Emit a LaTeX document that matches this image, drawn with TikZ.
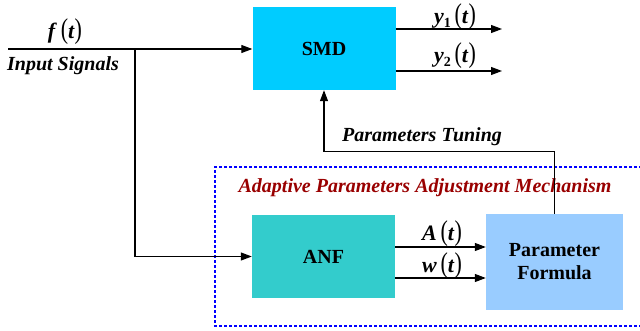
\documentclass[tikz,border=0pt]{standalone}
\usepackage{fontspec}
\setmainfont{Liberation Serif}
\usetikzlibrary{arrows.meta,positioning}
\definecolor{smdcyan}{HTML}{00CCFF}
\definecolor{anfteal}{HTML}{33CCCC}
\definecolor{pfblue}{HTML}{99CCFF}
\definecolor{mechred}{HTML}{990000}
\newcommand{\tpar}[1]{\scalebox{1}[1.3]{#1}}
\newcommand{\sig}[2][]{\textbf{\textit{#2}}\ifx&#1&\else\raisebox{-3.5pt}{\fontsize{14}{14}\selectfont\bfseries #1}\fi\,\tpar{(}\textbf{\textit{t}}\tpar{)}}

\begin{document}
\begin{tikzpicture}[x=1pt, y=-1pt,
  block/.style={minimum width=143pt, minimum height=83pt, inner sep=0pt,
                font=\fontsize{20}{23}\selectfont\bfseries, align=center},
  arr/.style={-{Triangle[length=11pt, width=8pt]}, line width=1.1pt},
  lbl/.style={font=\fontsize{20}{23}\selectfont\bfseries\itshape},
  sgl/.style={font=\fontsize{22}{24}\selectfont, inner sep=0pt}
]
\useasboundingbox (0,0) rectangle (640,331);
% blocks
\node[block, fill=smdcyan] (smd) at (324,48.5) {SMD};
\node[block, fill=anfteal] (anf) at (323.5,256.5) {ANF};
\node[block, fill=pfblue, minimum width=137pt, minimum height=96pt]
  (pf) at (554.5,262) {Parameter\\Formula};
% mechanism frame
\draw[blue, line width=1.6pt, dash pattern=on 3pt off 2pt]
  (642,167) -- (215,167) -- (215,326) -- (642,326);
\node[lbl, text=mechred] (mech) at (425,188)
  {Adaptive Parameters Adjustment Mechanism};
% input
\coordinate (in) at (8,49);
\coordinate (br) at (135,49);
\draw[arr] (in) -- (smd.west |- in);
\draw[arr] (br) |- (anf.west);
\node[sgl] (f) at (65,32) {\sig{f}};
\node[lbl] (insig) at (63,66) {Input Signals};
% outputs
\coordinate (y1e) at (502,29);
\coordinate (y2e) at (502,71);
\draw[arr] (smd.east |- y1e) -- (y1e);
\draw[arr] (smd.east |- y2e) -- (y2e);
\node[sgl] (y1) at (455,17) {\sig[1]{y}};
\node[sgl] (y2) at (455,56) {\sig[2]{y}};
% ANF to formula
\draw[arr] ([yshift=9.5pt]anf.east) -- ([yshift=9.5pt]anf.east -| pf.west);
\draw[arr] ([yshift=-21.5pt]anf.east) -- ([yshift=-21.5pt]anf.east -| pf.west);
\node[sgl] (at) at (442,234) {\sig{A}};
\node[sgl] (wt) at (442,266) {\sig{w}};
% tuning feedback
\draw[arr] (pf.north) |- ([yshift=-61pt]smd.south) -- (smd.south);
\node[lbl] (tune) at (422,137) {Parameters Tuning};
\end{tikzpicture}
\end{document}
